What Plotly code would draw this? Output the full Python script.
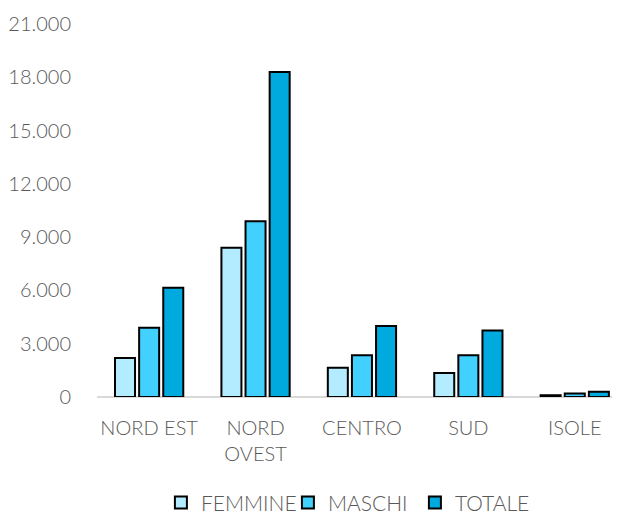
import plotly.graph_objects as go

# Ripartizioni territoriali
categorie = ["NORD EST", "NORD<br>OVEST", "CENTRO", "SUD", "ISOLE"]

# Valori per serie
femmine = [2200, 8400, 1650, 1350, 100]
maschi = [3900, 9900, 2350, 2350, 200]
totale = [6150, 18300, 4000, 3750, 300]

serie = [
    ("FEMMINE", femmine, "#B3EBFF"),
    ("MASCHI", maschi, "#42D0FF"),
    ("TOTALE", totale, "#00A9DE"),
]

tick_vals = [0, 3000, 6000, 9000, 12000, 15000, 18000, 21000]

font_fam = "Lato"
grigio = "#595959"

fig = go.Figure()
for nome, valori, colore in serie:
    fig.add_trace(go.Bar(
        name=nome,
        x=list(range(len(categorie))),
        y=valori,
        marker=dict(color=colore, line=dict(color="#000000", width=2)),
    ))

fig.update_layout(
    width=622,
    height=516,
    margin=dict(l=97, r=10, t=24, b=119, autoexpand=False),
    paper_bgcolor="white",
    plot_bgcolor="white",
    barmode="group",
    bargap=0.32,
    bargroupgap=0.17,
    separators=",.",
    font=dict(family=font_fam, size=20, color=grigio, weight=300),
    legend=dict(
        orientation="h",
        x=0.494, xanchor="center",
        y=-0.284, yanchor="middle",
        font=dict(family=font_fam, size=21, color=grigio, weight=300),
        itemwidth=30,
        entrywidth=82,
        entrywidthmode="pixels",
        tracegroupgap=0,
    ),
    showlegend=True,
)

fig.update_xaxes(
    tickmode="array",
    tickvals=list(range(len(categorie))),
    ticktext=categorie,
    range=[-0.49, 4.35],
    showgrid=False,
    showline=False,
    zeroline=False,
    ticks="",
    ticklabelstandoff=17,
)

fig.update_yaxes(
    range=[0, 21000],
    tickvals=tick_vals,
    tickformat=",d",
    showgrid=False,
    zeroline=True,
    zerolinecolor="#D9D9D9",
    zerolinewidth=2,
    showline=False,
    ticks="",
    ticklabelstandoff=25,
)

fig.write_html("out.html")
